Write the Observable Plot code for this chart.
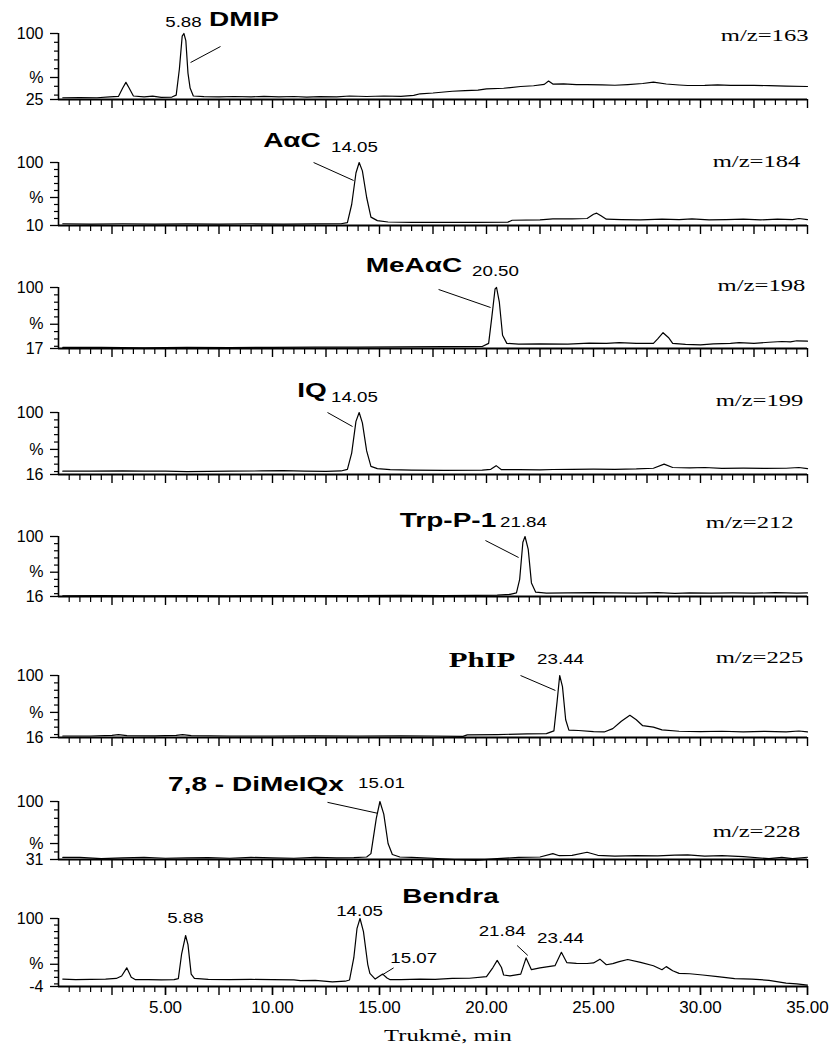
<!DOCTYPE html>
<html><head><meta charset="utf-8">
<script src="https://cdn.jsdelivr.net/npm/d3@7"></script>
<script src="https://cdn.jsdelivr.net/npm/@observablehq/plot@0.6"></script>
<style>
html,body{margin:0;padding:0;background:#fff;}
#chart{width:837px;height:1050px;position:relative;}
#chart svg{display:block;}
</style>
</head><body><div id="chart"></div>
<script>
// ---------- DATA ----------
const panelNames = ["m/z=163","m/z=184","m/z=198","m/z=199","m/z=212","m/z=225","m/z=228","Bendra"];
const yMins = [25, 10, 17, 16, 16, 16, 31, -4];
const pctTicks = [50, 50, 50, 50, 50, 50, 50, 30];
const xLabelTicks = [5, 10, 15, 20, 25, 30, 35];

const trace163 = [[0.2,27],[1.0,27.3],[1.8,27],[2.4,28],[2.8,28.5],[3.0,38],[3.15,44.5],[3.3,38],[3.5,29],[4.0,28],[4.4,28.8],[4.8,27.5],[5.3,27.8],[5.5,30],[5.65,60],[5.78,97],[5.86,100],[5.95,92],[6.05,55],[6.15,38],[6.3,29],[6.8,28.3],[7.5,28],[8.2,28.4],[9.0,28],[9.6,28.6],[10.3,28],[11.0,28.4],[11.6,27.6],[12.2,28.2],[13.0,28],[13.6,29],[14.4,28.4],[15.2,29],[16.0,28.6],[16.6,29.6],[16.9,31.5],[17.5,32.4],[18.4,34.4],[19.0,35],[19.6,35.6],[20.0,37],[20.8,37.8],[21.6,39.8],[22.2,40.6],[22.7,42.2],[22.9,46],[23.1,42.5],[23.6,42.8],[24.2,42],[24.7,42],[25.4,41.6],[26.0,41.2],[26.6,42],[27.3,43.2],[27.8,44.7],[28.4,42.6],[29.0,41.5],[29.4,40.9],[30.2,41],[30.8,41.6],[31.4,41],[32.0,41.2],[32.5,41],[33.2,40.8],[34.0,40.2],[35.0,39.8]];
const trace184 = [[0.2,12.5],[1.5,12],[3,12.5],[4.5,12],[6,12.3],[7.5,12],[9,12.5],[10.5,12],[12,12.4],[13.2,12.5],[13.5,14],[13.7,40],[13.9,85],[14.05,100],[14.2,88],[14.4,50],[14.6,22],[14.9,17],[15.4,15],[16.5,14.5],[18,14.5],[19.5,14.5],[21.0,14.8],[21.2,17.5],[22.5,18],[23.1,19.5],[24.0,19.5],[24.7,20],[25.0,26],[25.15,27.6],[25.35,24],[25.6,19],[26.3,18.5],[27.2,18],[28.2,19],[29.0,18.5],[29.6,19.5],[30.4,18],[31.2,18.5],[32.0,19],[32.8,18],[33.6,19],[34.3,18.5],[34.6,20],[35,18.5]];
const trace198 = [[0.2,18.5],[2,18.5],[4,18],[6,18.5],[8,18.3],[10,18.5],[12,18.8],[14,19],[16,19.2],[18,19.5],[19.8,19.7],[20.1,24],[20.25,60],[20.4,98],[20.47,100],[20.6,80],[20.75,35],[20.95,24],[21.5,23],[22.5,23.4],[23.8,23],[24.8,24.2],[25.6,24],[26.2,25],[27,24],[27.8,24],[28.0,30],[28.25,38.5],[28.5,32],[28.7,24],[29.3,22.5],[30,22],[30.6,23.4],[31.4,24],[31.8,25],[32.5,24],[33.2,25.5],[33.8,26.5],[34.2,26],[34.5,27.5],[35,27]];
const trace199 = [[0.2,20.5],[1.5,20.5],[3,21],[4,20.5],[5,20.5],[6,20],[8,20.5],[9.5,20.8],[10.5,21.2],[11.5,20.5],[12.5,20.3],[13.2,20.8],[13.5,23],[13.7,45],[13.9,88],[14.05,100],[14.2,86],[14.4,48],[14.6,27],[14.9,24],[15.5,22.5],[16.5,22],[18,21.5],[19.8,22],[20.2,23],[20.45,28],[20.7,22.5],[21.5,22.5],[22.5,22.3],[23.1,22.8],[24,23],[25,23.2],[26,23],[27,23.5],[27.8,24.5],[28.3,30],[28.7,25.5],[29.5,25],[30.2,25.5],[31,24.3],[32,24.6],[33,24.3],[34,24.5],[34.6,25.5],[35,24]];
const trace212 = [[0.2,17],[2,17.2],[4,17],[6,17.3],[8,17],[10,17.3],[12,17.1],[14,17.3],[16,17.5],[18,17.4],[19.5,17.5],[20.5,18],[21.1,19],[21.4,21],[21.55,40],[21.7,92],[21.8,100],[21.95,82],[22.1,35],[22.3,22],[22.8,20.6],[23.8,21],[25,21.5],[26,21],[27,20.8],[28,21.3],[28.8,20.5],[29.5,21],[30.5,20.8],[31.5,21],[32.5,20.7],[33.5,21.3],[34.5,20.8],[35,21]];
const trace225 = [[0.2,18],[1.5,18],[2.5,19],[2.8,20],[3.2,18.5],[4.5,18.2],[5.5,19],[5.8,20],[6.2,18.5],[8,18],[10,18],[12,18.3],[14,18],[16,18.3],[17.5,18],[18.9,17.6],[19.1,19.6],[20.5,20],[21.9,21],[22.8,21.2],[23.15,25],[23.3,65],[23.42,100],[23.55,85],[23.7,40],[23.85,26],[24.3,25.5],[25,24],[25.5,23.5],[25.9,28],[26.3,38],[26.7,46],[27.0,40],[27.3,32],[27.8,30],[28.2,26.4],[29,24.5],[30,24],[31,24.5],[32,23.5],[33,24.3],[34,23.5],[34.6,24.8],[35,23.5]];
const trace228 = [[0.2,33.5],[1,33.5],[2,32],[3,33],[4,33.5],[5,32.5],[6,33],[7,33.2],[8,32.5],[9,33.5],[10,33],[11,32.5],[12,33.5],[13,33],[13.8,33.2],[14.4,34],[14.6,38],[14.85,80],[15.02,100],[15.2,85],[15.4,50],[15.6,37],[15.95,34],[16.5,33.5],[17.5,32.5],[18.5,31],[19.5,30],[20.5,32],[21.5,33.5],[22.5,34],[23.1,38],[23.4,35.5],[24,36],[24.7,39.6],[25.2,36],[26,35],[27,35.7],[28,35.2],[28.8,36.2],[29.4,36.6],[30.2,35],[31,35.5],[32,34.5],[33.2,32],[33.8,33.5],[34.3,32],[35,33.7]];
const traceBendra = [[0.2,7.4],[0.8,6.4],[1.5,6.8],[2.2,7.4],[2.7,8.3],[2.95,12],[3.19,24.5],[3.4,10],[3.6,6.4],[4.2,6.4],[4.8,6],[5.4,6.4],[5.6,8],[5.75,45],[5.94,74],[6.05,60],[6.2,15],[6.35,8.3],[7,7],[8,6.4],[9,6.8],[10,6.4],[11,6],[11.3,5],[12,5.5],[12.8,3.1],[13.4,4.1],[13.6,6],[13.8,40],[13.95,85],[14.09,100],[14.25,80],[14.45,30],[14.55,16],[14.8,7.4],[15.15,15],[15.35,9],[15.5,6.4],[16,6.4],[16.9,7.4],[17.6,7],[18.4,8.3],[19.2,8.6],[20,11.2],[20.3,25],[20.5,35.9],[20.7,25],[20.8,13.6],[21.1,12.2],[21.6,15],[21.85,39.7],[22.1,21.7],[22.5,24.5],[23.2,27.8],[23.5,48.3],[23.75,32.6],[24.2,31.5],[24.7,31.2],[25.0,32],[25.3,37.8],[25.6,29.3],[25.9,31],[26.2,34],[26.6,37.3],[27.2,33],[27.8,27.8],[28.2,21.7],[28.4,26.4],[28.7,20],[29,16],[29.5,15.5],[30.1,13.6],[30.8,11],[31.6,7.9],[32.4,7.4],[33.2,5.5],[34,1.2],[34.5,0],[35,-2]];
const traces = [trace163, trace184, trace198, trace199, trace212, trace225, trace228, traceBendra];

// compound names (label centre, in minutes / %)
const compoundLabels = [
  {panel:0, text:"DMIP", t:8.67, v:108.5},
  {panel:1, text:"A\u03b1C", t:10.91, v:122.9},
  {panel:2, text:"MeA\u03b1C", t:16.61, v:121.8},
  {panel:3, text:"IQ", t:11.85, v:121.7},
  {panel:4, text:"Trp-P-1", t:18.2, v:114},
  {panel:5, text:"PhIP", t:19.79, v:112.2},
  {panel:6, text:"7,8 - DiMeIQx", t:9.23, v:113},
  {panel:7, text:"Bendra", t:18.32, v:124}
];
// retention-time labels
const rtLabels = [
  {panel:0, text:"5.88", t:5.84, v:108},
  {panel:1, text:"14.05", t:13.83, v:115.7},
  {panel:2, text:"20.50", t:20.42, v:116.3},
  {panel:3, text:"14.05", t:13.83, v:114.9},
  {panel:4, text:"21.84", t:21.73, v:114},
  {panel:5, text:"23.44", t:23.46, v:116.3},
  {panel:6, text:"15.01", t:15.09, v:116.6},
  {panel:7, text:"5.88", t:5.93, v:94.3},
  {panel:7, text:"14.05", t:14.07, v:105},
  {panel:7, text:"15.07", t:16.6, v:32.6},
  {panel:7, text:"21.84", t:20.73, v:73},
  {panel:7, text:"23.44", t:23.46, v:63.5}
];
// leader lines
const leaders = [
  {panel:0, t1:7.57, v1:85.2, t2:6.17, v2:67},
  {panel:1, t1:11.92, v1:100, t2:13.79, v2:74.3},
  {panel:2, t1:17.76, v1:97.3, t2:20.19, v2:72.8},
  {panel:3, t1:12.57, v1:100, t2:13.74, v2:81},
  {panel:4, t1:19.95, v1:94.4, t2:21.5, v2:70.6},
  {panel:5, t1:21.59, v1:100, t2:23.22, v2:79.7},
  {panel:6, t1:12.57, v1:99, t2:14.91, v2:86},
  {panel:7, t1:15.66, v1:24.5, t2:15.12, v2:13.6},
  {panel:7, t1:21.43, v1:58.7, t2:21.93, v2:43.5}
];
// m/z labels (right edge)
const mzLabelT = [35.05, 34.67, 34.9, 34.81, 34.35, 34.81, 34.67];
const mzLabelV = [92, 94.3, 95.9, 109.5, 112.6, 117.6, 58.7];
const axisTitle = "Trukm\u0117, min";
const axisTitleT = 18.2;

// ---------- LAYOUT ----------
const W = 837, ML = 58, MR = 30;
const panelTop  = [33, 162, 287, 412, 536, 675, 801, 918];
const panelBase = [99, 225, 348, 474, 596, 737, 859, 986];
const BELOW = 14;
const SANS = "Liberation Sans, Arial, sans-serif";
const SERIF = "Liberation Serif, Times New Roman, serif";

// widen chosen labels horizontally (the original figure's type is wide)
function stretchTexts(svg, strings, sx) {
  const set = new Set(strings);
  svg.querySelectorAll("text").forEach(t => {
    if (!set.has(t.textContent)) return;
    const x = parseFloat(t.getAttribute("x")) || 0;
    const y = parseFloat(t.getAttribute("y")) || 0;
    const tr = t.getAttribute("transform") || "";
    t.removeAttribute("x"); t.removeAttribute("y");
    t.setAttribute("transform", `${tr} translate(${x},${y}) scale(${sx},1)`);
  });
}

const chart = document.getElementById("chart");
const minorX = d3.range(0.5, 35.001, 0.5).filter(v => Math.abs(v / 2.5 - Math.round(v / 2.5)) > 1e-6);
const majorX = d3.range(2.5, 35.001, 2.5);

for (let i = 0; i < 8; i++) {
  const start = i === 0 ? 0 : panelBase[i - 1] + BELOW;
  const end = i === 7 ? 1050 : panelBase[i] + BELOW;
  const mt = panelTop[i] - start, mb = end - panelBase[i], h = end - start;
  const ymin = yMins[i], pct = pctTicks[i];
  const minorY = d3.range(Math.ceil((ymin + 0.01) / 10) * 10, 100, 10).filter(v => v !== pct);
  const last = i === 7;

  const marks = [
    Plot.ruleX([0], {y1: ymin, y2: 100, strokeWidth: 1.6}),
    Plot.axisY(minorY, {tickSize: 4, fill: "none", strokeWidth: 1.2, label: null}),
    Plot.axisY([ymin, pct, 100], {tickSize: 8, tickPadding: 7, strokeWidth: 1.3, label: null,
      tickFormat: v => v === pct ? "%" : String(v), fontSize: 16}),
    Plot.axisX(minorX, {tickSize: 6, fill: "none", strokeWidth: 1.2, label: null}),
    Plot.axisX(majorX, {tickSize: 9, fill: "none", strokeWidth: 1.4, label: null}),
    Plot.ruleY([ymin], {x1: 0, x2: 35, strokeWidth: 2.2}),
    Plot.line(traces[i], {x: d => d[0], y: d => d[1], strokeWidth: 1.2, stroke: "#000"}),
    Plot.link(leaders.filter(d => d.panel === i), {x1: "t1", y1: "v1", x2: "t2", y2: "v2", strokeWidth: 1, stroke: "#000"}),
    Plot.text(rtLabels.filter(d => d.panel === i), {x: "t", y: "v", text: "text", fontSize: 15,
      fontFamily: SANS, fill: "#000"}),
    Plot.text(compoundLabels.filter(d => d.panel === i && d.text !== "PhIP"), {x: "t", y: "v", text: "text",
      fontSize: 20, fontWeight: "bold", fontFamily: SANS, fill: "#000"}),
    Plot.text(compoundLabels.filter(d => d.panel === i && d.text === "PhIP"), {x: "t", y: "v", text: "text",
      fontSize: 22, fontWeight: "bold", fontFamily: SERIF, fill: "#000"})
  ];
  if (i < 7) {
    marks.push(Plot.text([{t: mzLabelT[i], v: mzLabelV[i], text: panelNames[i]}], {x: "t", y: "v", text: "text",
      textAnchor: "end", fontSize: 17, fontFamily: SERIF, fill: "#000"}));
  }
  if (last) {
    marks.push(Plot.axisX(xLabelTicks, {tickSize: 9, tickPadding: 5, strokeWidth: 1.4, label: null,
      tickFormat: v => v.toFixed(2), fontSize: 17}));
    marks.push(Plot.text([{t: axisTitleT, text: axisTitle}], {x: "t", text: "text", frameAnchor: "bottom",
      dy: 54, fontSize: 17, fontFamily: SERIF, fill: "#000"}));
  }

  const svg = Plot.plot({
    width: W, height: h,
    marginLeft: ML, marginRight: MR, marginTop: mt, marginBottom: mb,
    x: {domain: [0, 35]},
    y: {domain: [ymin, 100]},
    style: {fontFamily: SANS, fontSize: "17px", color: "#000", background: "transparent", overflow: "visible"},
    marks
  });
  stretchTexts(svg, rtLabels.map(d => d.text), 1.25);
  stretchTexts(svg, compoundLabels.map(d => d.text), 1.4);
  stretchTexts(svg, panelNames.slice(0, 7), 1.45);
  stretchTexts(svg, [axisTitle], 1.45);
  chart.appendChild(svg);
}
</script></body></html>
